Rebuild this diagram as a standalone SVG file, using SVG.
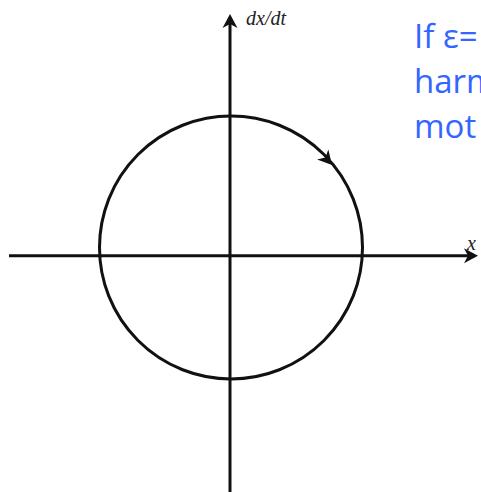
<svg xmlns="http://www.w3.org/2000/svg" width="481" height="492" viewBox="0 0 481 492">
<style>
.ax{stroke:#111;stroke-width:3;fill:none}
.lbl{font-family:"Liberation Serif",serif;font-style:italic;font-size:20px;fill:#222}
.blue{font-family:"Open Sans","Liberation Sans",sans-serif;font-size:33px;fill:#3366ff}
</style>
<defs>
<path id="ah" d="M0,0 L-14,-7.5 L-10,0 L-14,7.5 Z" fill="#111"/>
</defs>
<rect width="481" height="492" fill="#fff"/>
<g id="connectors">
<line class="ax" x1="230" y1="492" x2="230" y2="22"/>
<use href="#ah" transform="translate(230,14) rotate(-90)"/>
<line class="ax" x1="9" y1="255.7" x2="470" y2="255.7"/>
<use href="#ah" transform="translate(478,255.7)"/>
</g>
<g id="orbit">
<circle class="ax" cx="231" cy="247.5" r="131.5"/>
<use href="#ah" transform="translate(332,165) rotate(48.5)"/>
</g>
<g id="labels">
<text class="lbl" x="246" y="25">dx/dt</text>
<text class="lbl" x="467" y="250">x</text>
</g>
<g id="note">
<text class="blue" x="414" y="48">If ε=</text>
<text class="blue" x="414" y="93">harm</text>
<text class="blue" x="414" y="138">mot</text>
</g>
</svg>
